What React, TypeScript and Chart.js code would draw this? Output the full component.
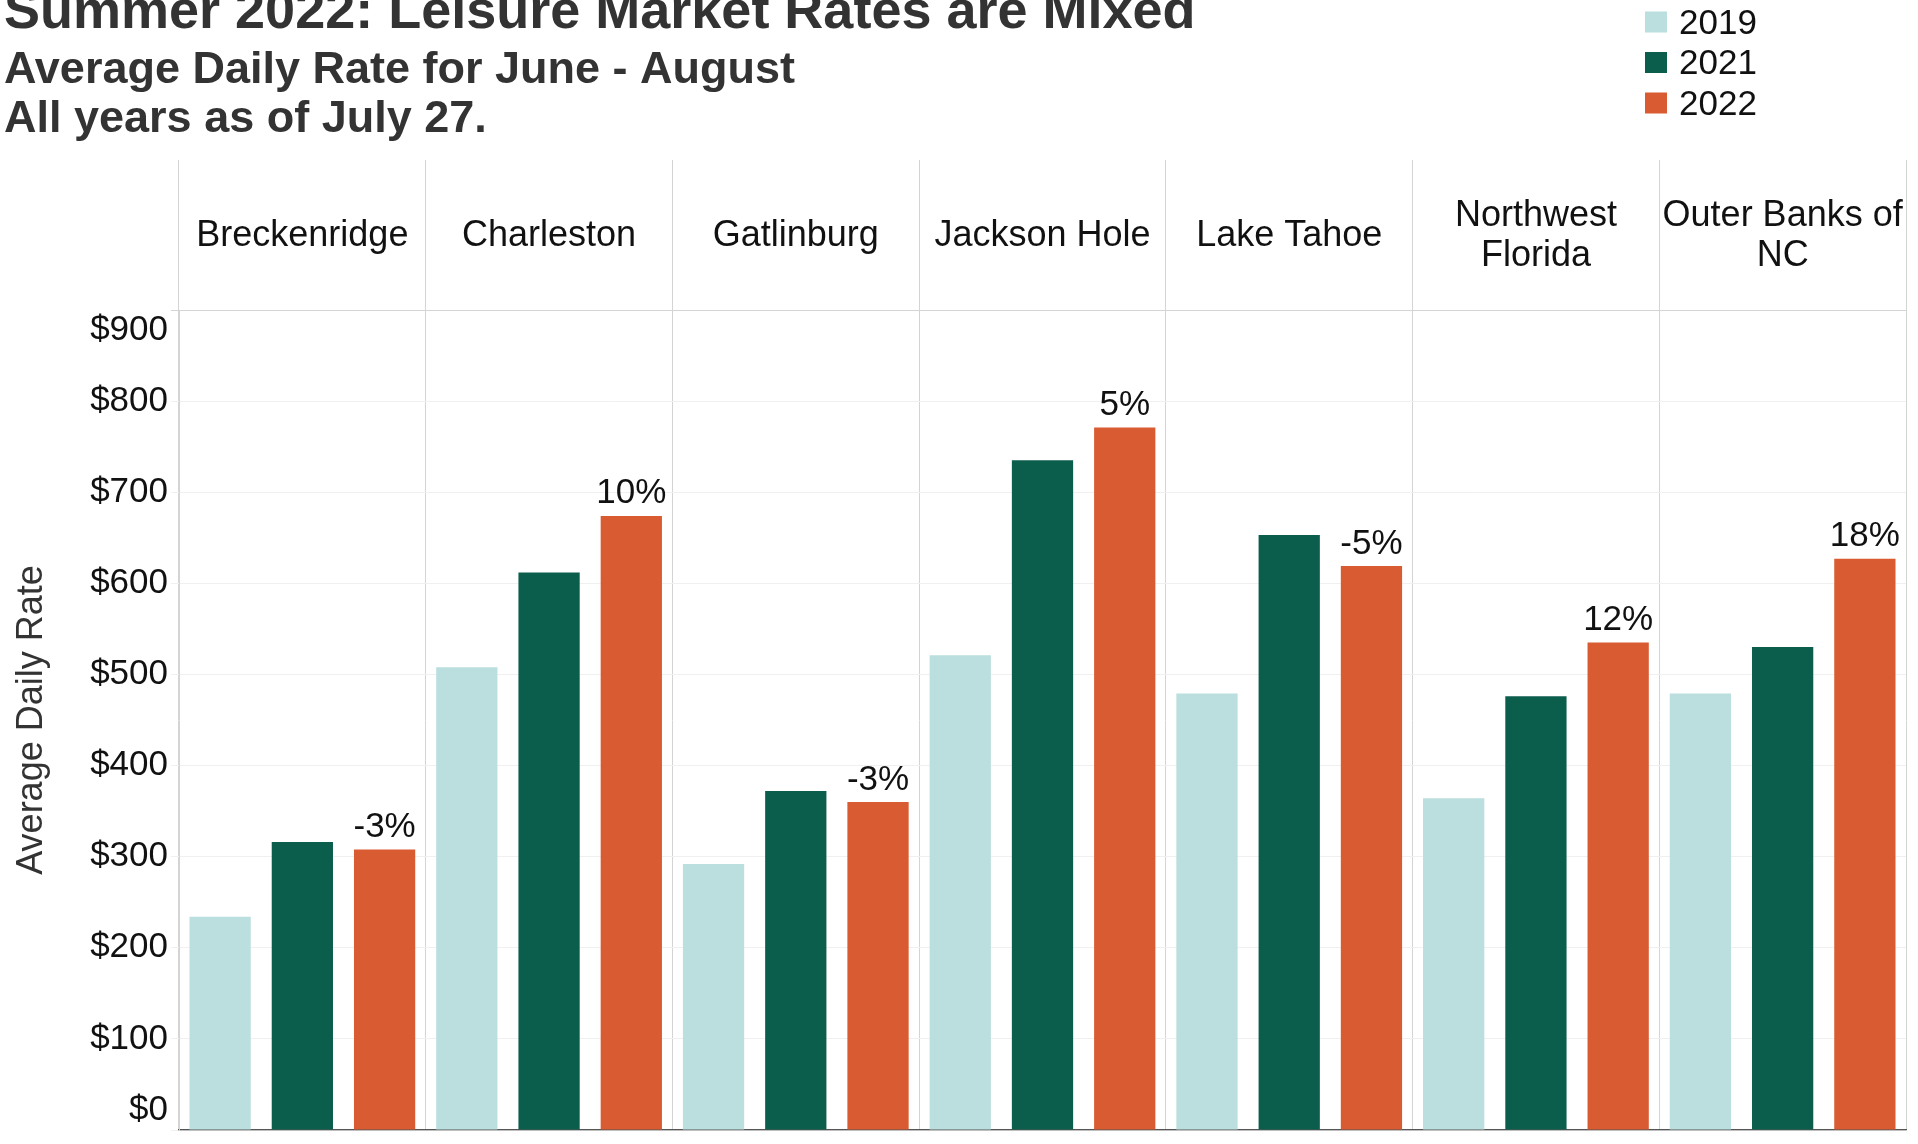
import React, { useEffect, useRef } from 'react';
import { Chart, registerables } from 'chart.js';

Chart.register(...registerables);

// ---------- data ----------
const categories = [
  'Breckenridge',
  'Charleston',
  'Gatlinburg',
  'Jackson Hole',
  'Lake Tahoe',
  'Northwest Florida',
  'Outer Banks of NC',
];
const seriesNames = ['2019', '2021', '2022'];
const values2019 = [234, 508, 292, 521, 479, 364, 479];
const values2021 = [316, 612, 372, 735, 653, 476, 530];
const values2022 = [308, 674, 360, 771, 619, 535, 627];
const changeLabels = ['-3%', '10%', '-3%', '5%', '-5%', '12%', '18%'];
const yTickValues = [0, 100, 200, 300, 400, 500, 600, 700, 800, 900];
const yTickLabels = ['$0', '$100', '$200', '$300', '$400', '$500', '$600', '$700', '$800', '$900'];
const titleText = 'Summer 2022: Leisure Market Rates are Mixed';
const subtitleLines = ['Average Daily Rate for June - August', 'All years as of July 27.'];
const yAxisTitle = 'Average Daily Rate';

// ---------- styles ----------
const FONT = "'Liberation Sans', Arial, Helvetica, sans-serif";
const seriesColors = ['#BBDEDE', '#0C5E4C', '#D95B31'];
const LINE = '#d4d4d4';
const GRID = '#f0f0f0';
const TEXT = '#111111';
const TITLE = '#333333';

let measureCtx: CanvasRenderingContext2D | null = null;
function wrapLabel(text: string, maxWidth: number): string[] {
  if (!measureCtx) measureCtx = document.createElement('canvas').getContext('2d');
  const ctx = measureCtx!;
  ctx.font = `36px ${FONT}`;
  const words = text.split(' ');
  const lines: string[] = [];
  let cur = '';
  for (const w of words) {
    const test = cur ? cur + ' ' + w : w;
    if (cur && ctx.measureText(test).width > maxWidth) {
      lines.push(cur);
      cur = w;
    } else {
      cur = test;
    }
  }
  if (cur) lines.push(cur);
  return lines;
}

const valueLabelPlugin = {
  id: 'valueLabels',
  afterDatasetsDraw(chart: any) {
    const meta = chart.getDatasetMeta(2);
    const ctx = chart.ctx;
    ctx.save();
    ctx.font = `35px ${FONT}`;
    ctx.fillStyle = TEXT;
    ctx.textAlign = 'center';
    ctx.textBaseline = 'alphabetic';
    meta.data.forEach((bar: any, i: number) => {
      ctx.fillText(changeLabels[i], bar.x, bar.y - 12.5);
    });
    ctx.restore();
  },
};

const legendPlugin = {
  id: 'topRightLegend',
  afterDraw(chart: any) {
    const ctx = chart.ctx;
    const x0 = chart.width - 273;
    ctx.save();
    ctx.font = `35px ${FONT}`;
    ctx.textAlign = 'left';
    ctx.textBaseline = 'middle';
    chart.data.datasets.forEach((ds: any, i: number) => {
      const cy = 23 + i * 40.5;
      ctx.fillStyle = ds.backgroundColor;
      ctx.fillRect(x0, cy - 11.5, 22, 21);
      ctx.fillStyle = TEXT;
      ctx.fillText(ds.label, x0 + 34, cy + 1);
    });
    ctx.restore();
  },
};

export default function App() {
  const canvasRef = useRef<HTMLCanvasElement | null>(null);

  useEffect(() => {
    if (!canvasRef.current) return;
    const seriesValues = [values2019, values2021, values2022];
    const chart = new Chart(canvasRef.current, {
      type: 'bar',
      data: {
        labels: categories,
        datasets: seriesNames.map((name, i) => ({
          label: name,
          data: seriesValues[i],
          backgroundColor: seriesColors[i],
          borderWidth: 0,
          categoryPercentage: 1,
          barPercentage: 0.745,
        })),
      },
      options: {
        animation: false,
        responsive: true,
        maintainAspectRatio: false,
        layout: { padding: { left: 4, right: 12, top: 0, bottom: 14 } },
        plugins: {
          legend: { display: false },
          tooltip: { enabled: false },
          title: {
            display: true,
            text: titleText,
            align: 'start',
            color: TITLE,
            font: { family: FONT, size: 54, weight: 'bold', lineHeight: 1 },
            padding: { top: -13.4, bottom: 5.2 },
          },
          subtitle: {
            display: true,
            text: subtitleLines,
            align: 'start',
            color: TITLE,
            font: { family: FONT, size: 45, weight: 'bold', lineHeight: 49 / 45 },
            padding: { top: 0, bottom: 0 },
          },
        },
        scales: {
          x: {
            type: 'category',
            position: 'top',
            offset: true,
            afterFit: (scale: any) => {
              scale.height = 166.2;
              scale.paddingLeft = 0;
              scale.paddingRight = 0;
            },
            grid: {
              offset: true,
              color: LINE,
              tickColor: LINE,
              tickLength: 150,
              drawTicks: true,
              drawOnChartArea: true,
            },
            border: { display: true, color: LINE },
            ticks: {
              font: { family: FONT, size: 36, lineHeight: 40 / 36 },
              color: TEXT,
              padding: -96.5,
              crossAlign: 'center',
              maxRotation: 0,
              minRotation: 0,
              autoSkip: false,
              callback: function (this: any, value: any) {
                return wrapLabel(this.getLabelForValue(value), 244);
              },
            },
          },
          x2: {
            type: 'category',
            position: 'bottom',
            labels: categories,
            grid: { display: false, drawTicks: false },
            ticks: { display: false },
            border: { display: true, color: '#555555', width: 1.2, dash: [4, 3] },
          },
          y: {
            type: 'linear',
            position: 'left',
            min: 0,
            max: 900,
            afterFit: (scale: any) => {
              scale.width = 175;
              scale.paddingTop = 0;
              scale.paddingBottom = 0;
            },
            afterBuildTicks: (scale: any) => {
              scale.ticks = yTickValues.map((v) => ({ value: v }));
            },
            grid: {
              color: (c: any) =>
                c.tick && c.tick.value === 900 ? 'rgba(0,0,0,0)' : c.tick && c.tick.value === 0 ? '#e2e2e2' : GRID,
              tickColor: (c: any) => (c.tick && c.tick.value === 900 ? LINE : GRID),
              tickLength: 8,
              drawTicks: true,
            },
            border: { display: true, color: LINE },
            title: {
              display: true,
              text: yAxisTitle,
              color: TITLE,
              font: { family: FONT, size: 36, lineHeight: 1.2 },
              padding: { top: 6.5, bottom: 0 },
            },
            ticks: {
              font: { family: FONT, size: 35, lineHeight: 40 / 35 },
              color: TEXT,
              padding: 3,
              callback: (value: any) => {
                const idx = yTickValues.indexOf(Number(value));
                const label = idx >= 0 ? yTickLabels[idx] : '';
                if (Number(value) === 900) return ['', label];
                if (Number(value) === 0) return [label, ''];
                return label;
              },
            },
          },
        },
      },
      plugins: [valueLabelPlugin, legendPlugin],
    } as any);
    return () => chart.destroy();
  }, []);

  return (
    <div
      style={{
        position: 'fixed',
        left: 0,
        top: 0,
        width: 1918,
        height: 1144,
        background: '#ffffff',
      }}
    >
      <canvas ref={canvasRef} />
    </div>
  );
}
